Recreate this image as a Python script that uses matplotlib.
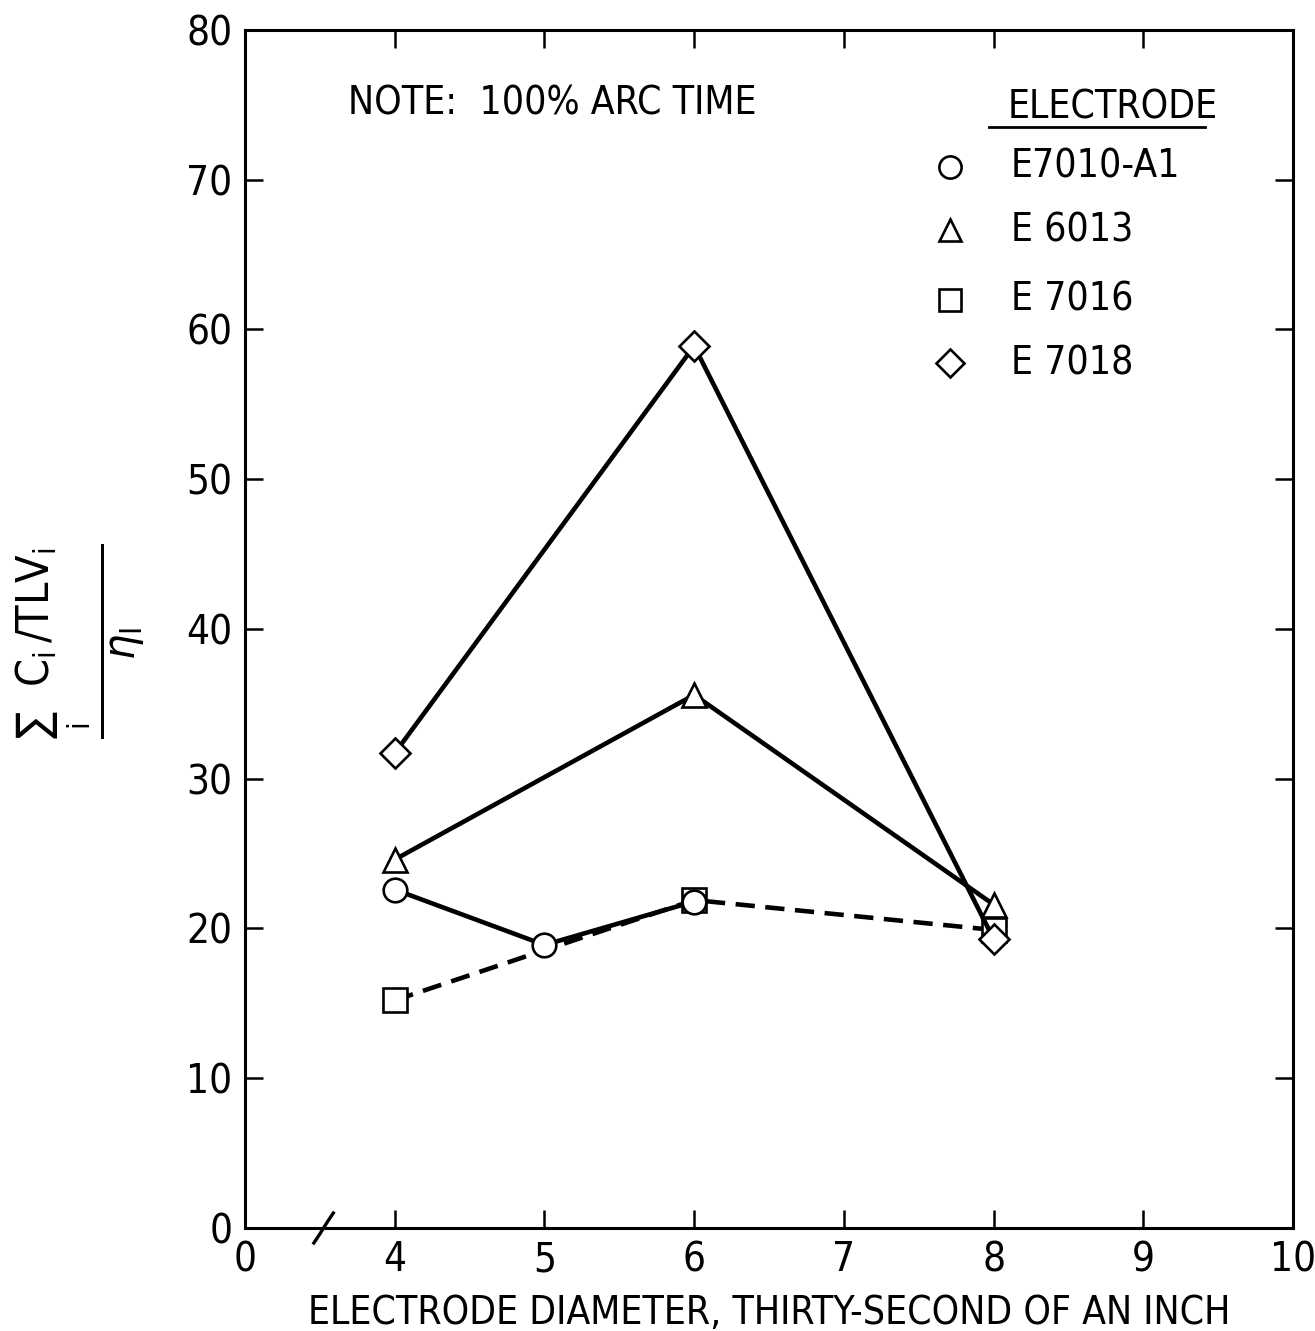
import numpy as np
import matplotlib
matplotlib.use("Agg")
import matplotlib.pyplot as plt
from matplotlib import font_manager

# data
x_e7010 = [4, 5, 6]
y_e7010 = [22.6, 18.9, 21.8]
x_e6013 = [4, 6, 8]
y_e6013 = [24.6, 35.6, 21.6]
x_e7016 = [4, 6, 8]
y_e7016 = [15.2, 21.9, 19.9]
x_e7018 = [4, 6, 8]
y_e7018 = [31.7, 58.9, 19.3]

labels = ["E7010-A1", "E 6013", "E 7016", "E 7018"]
markers = ["o", "^", "s", "D"]

# the axis is broken: the "0" tick sits where 3 would be
xticks = [3, 4, 5, 6, 7, 8, 9, 10]
xticklabels = ["0", "4", "5", "6", "7", "8", "9", "10"]
yticks = np.arange(0, 90, 10)

# look for a condensed sans face
narrow = None
for f in font_manager.fontManager.ttflist:
    nm = f.name.lower()
    fn = f.fname.lower()
    cond = ('narrow' in nm or 'condensed' in nm or 'condensed' in fn
            or 'narrow' in fn or f.stretch in ('condensed', 'semi-condensed'))
    if not cond or 'mono' in nm or 'serif' in nm.replace('sans', ''):
        continue
    if f.weight not in (400, 'normal', 'regular') or f.style != 'normal':
        continue
    if 'extra' in fn or 'ultra' in fn or 'semi' in fn:
        continue
    narrow = f
    break

if narrow is not None:
    fam = narrow.name
    plt.rcParams['font.family'] = [fam, 'DejaVu Sans']
    plt.rcParams['font.stretch'] = narrow.stretch
    s = 1.0
else:
    fam = 'DejaVu Sans'
    plt.rcParams['font.family'] = [fam]
    s = 0.88
st = plt.rcParams['font.stretch']
plt.rcParams['mathtext.fontset'] = 'custom'
plt.rcParams['mathtext.rm'] = fam + ':stretch=' + str(st)
plt.rcParams['mathtext.it'] = fam + ':italic:stretch=' + str(st)

fs = 28 * s

fig = plt.figure(figsize=(13.15, 13.31), dpi=100)
ax = fig.add_axes([0.1863, 0.0774, 0.7970, 0.9001])

lw = 3.3
mkw = dict(markersize=17, markerfacecolor='white', markeredgecolor='black',
           markeredgewidth=1.9, color='black', zorder=3)

ax.plot(x_e7016, y_e7016, lw=lw, linestyle=(0, (4.2, 2.3)), marker='s', **mkw)
ax.plot(x_e7018, y_e7018, lw=lw, marker='D', **{**mkw, 'markersize': 15})
ax.plot(x_e6013, y_e6013, lw=lw, marker='^', **mkw)
ax.plot(x_e7010, y_e7010, lw=lw, marker='o', **mkw)

ax.set_xlim(3, 10)
ax.set_ylim(0, 80)
ax.set_xticks(xticks)
ax.set_xticklabels(xticklabels)
ax.set_yticks(yticks)
ax.tick_params(direction='in', length=13, width=1.8, labelsize=fs + 1, pad=9,
               right=True, top=True)
for t in ax.xaxis.get_major_ticks():
    if t.get_loc() in (3, 10):
        t.tick2line.set_visible(False)
        t.tick1line.set_visible(False)
for sp in ax.spines.values():
    sp.set_linewidth(2.2)

# axis break mark
ax.plot([3.46, 3.5, 3.55, 3.59], [-1.0, -0.4, 0.4, 1.0], color='black', lw=2.4,
        clip_on=False, zorder=4)

ax.set_xlabel("ELECTRODE DIAMETER, THIRTY-SECOND OF AN INCH", fontsize=fs,
              labelpad=10)
ax.set_ylabel(r"$\frac{\sum_{\mathrm{i}}\ \ \mathrm{C_i\,/TLV_i}}{\eta_{\mathrm{I}}}$",
              fontsize=46 * s, va='center')
ax.yaxis.set_label_coords(-0.157, 0.49)

ax.text(0.098, 0.939, "NOTE:  100% ARC TIME", transform=ax.transAxes,
        fontsize=fs, va='center')

# legend drawn by hand
ax.text(0.728, 0.935, "ELECTRODE", transform=ax.transAxes, fontsize=fs,
        va='center')
ax.plot([0.71, 0.916], [0.919, 0.919], transform=ax.transAxes, color='black',
        lw=2, clip_on=False)
rows = [0.886, 0.833, 0.775, 0.722]
for lab, mk, yy in zip(labels, markers, rows):
    ms = 14 if mk == 'D' else 16
    ax.plot([0.673], [yy], transform=ax.transAxes, marker=mk, markersize=ms,
            markerfacecolor='white', markeredgecolor='black',
            markeredgewidth=1.9, linestyle='none', clip_on=False)
    ax.text(0.731, yy, lab, transform=ax.transAxes, fontsize=fs, va='center')

fig.savefig("out.png", dpi=100)
